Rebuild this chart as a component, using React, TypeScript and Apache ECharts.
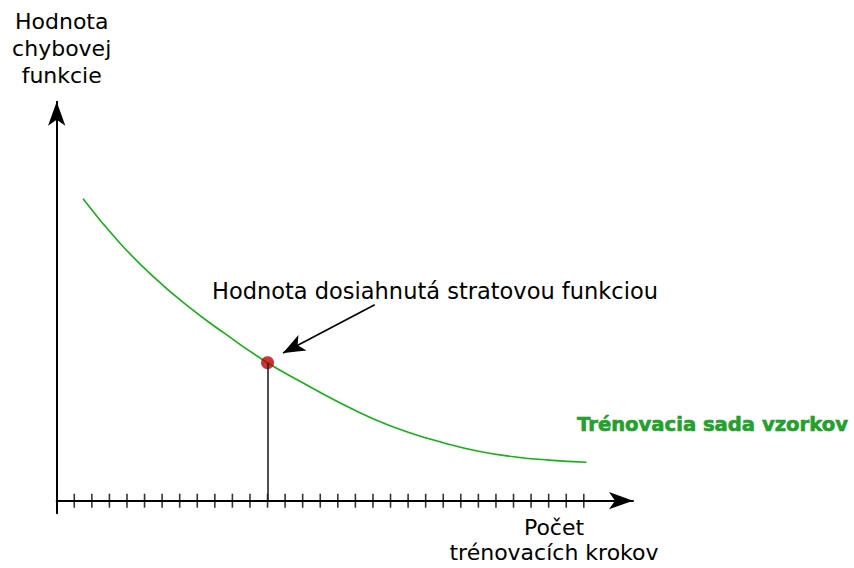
import React, { useEffect, useRef } from "react";
import * as echarts from "echarts";

// Training steps (x) and error-function value (y) along the training curve
const stepX = [1.5, 3.5, 5.5, 7.5, 9.5, 12, 14, 16, 18, 20, 22, 24, 26, 28, 30.15];
const errorY = [302, 259.5, 224, 194, 168, 138, 118, 99, 82, 68.5, 58, 49.5, 44, 40.6, 38.4];

// Value reached by the loss function
const reachedPoint = [12, 138];

// Annotation arrow: from near the label to the reached point
const arrowFrom = [18.1, 196];
const arrowTo = [12.88, 147.7];

// Training-step tick marks
const tickSteps = [1, 2, 3, 4, 5, 6, 7, 8, 9, 10, 11, 12, 13, 14, 15, 16, 17, 18, 19, 20, 21, 22, 23, 24, 25, 26, 27, 28, 29, 30];

const X_MAX = 32.8;
const Y_MIN = -12.5;
const Y_MAX = 399;

const FONT = "DejaVu Sans";

export default function App() {
  const ref = useRef<HTMLDivElement>(null);

  useEffect(() => {
    if (!ref.current) return;
    const chart = echarts.init(ref.current, null, { renderer: "svg" });

    const curve = stepX.map((x, i) => [x, errorY[i]]);
    const ticks = tickSteps.map((s) => [s, 0]);

    chart.setOption({
      animation: false,
      backgroundColor: "#ffffff",
      grid: { left: 56.7, top: 101.7, width: 576.3, height: 411.5 },
      xAxis: {
        type: "value",
        min: 0,
        max: X_MAX,
        axisLine: {
          show: true,
          onZero: true,
          symbol: ["none", "arrow"],
          symbolSize: [13, 24],
          lineStyle: { color: "#000", width: 2 },
        },
        axisTick: { show: false },
        axisLabel: { show: false },
        splitLine: { show: false },
      },
      yAxis: {
        type: "value",
        min: Y_MIN,
        max: Y_MAX,
        axisLine: {
          show: true,
          onZero: true,
          symbol: ["none", "arrow"],
          symbolSize: [13, 24],
          lineStyle: { color: "#000", width: 2 },
        },
        axisTick: { show: false },
        axisLabel: { show: false },
        splitLine: { show: false },
      },
      series: [
        {
          // step tick marks crossing the x axis
          type: "scatter",
          data: ticks,
          symbol: "rect",
          symbolSize: [1.6, 14],
          itemStyle: { color: "#000" },
          silent: true,
          z: 1,
        },
        {
          type: "line",
          data: curve,
          smooth: 0.5,
          showSymbol: false,
          lineStyle: { color: "#16b016", width: 1.6 },
          z: 2,
        },
        {
          type: "scatter",
          data: [reachedPoint],
          symbol: "circle",
          symbolSize: 13,
          itemStyle: { color: "#c00000" },
          z: 4,
          markLine: {
            silent: true,
            animation: false,
            label: { show: false },
            data: [
              [
                { coord: reachedPoint, symbol: "none", lineStyle: { color: "#222", width: 1.6, type: "solid" } },
                { coord: [reachedPoint[0], 0], symbol: "none" },
              ],
              [
                { coord: arrowFrom, symbol: "none", lineStyle: { color: "#000", width: 1.6, type: "solid" } },
                { coord: arrowTo, symbol: "arrow", symbolSize: [13, 22] },
              ],
            ],
          },
        },
      ],
      graphic: [
        {
          type: "text",
          x: 61.7,
          y: 7.5,
          style: {
            text: "Hodnota\nchybovej\nfunkcie",
            font: `22px '${FONT}'`,
            lineHeight: 27,
            align: "center",
            verticalAlign: "top",
            fill: "#000",
          },
        },
        {
          type: "text",
          x: 554,
          y: 515,
          style: {
            text: "Počet\ntrénovacích krokov",
            font: `22px '${FONT}'`,
            lineHeight: 25,
            align: "center",
            verticalAlign: "top",
            fill: "#000",
          },
        },
        {
          type: "text",
          x: 435,
          y: 291,
          style: {
            text: "Hodnota dosiahnutá stratovou funkciou",
            font: `22.5px '${FONT}'`,
            align: "center",
            verticalAlign: "middle",
            fill: "#000",
          },
        },
        {
          type: "text",
          x: 577,
          y: 424,
          style: {
            text: "Trénovacia sada vzorkov",
            font: `bold 19.6px '${FONT}'`,
            align: "left",
            verticalAlign: "middle",
            fill: "#20a22c",
            stroke: "#168c20",
            lineWidth: 0.6,
          },
        },
      ],
    });

    return () => chart.dispose();
  }, []);

  return (
    <div
      ref={ref}
      style={{ position: "fixed", left: 0, top: 0, width: 854, height: 568 }}
    />
  );
}
